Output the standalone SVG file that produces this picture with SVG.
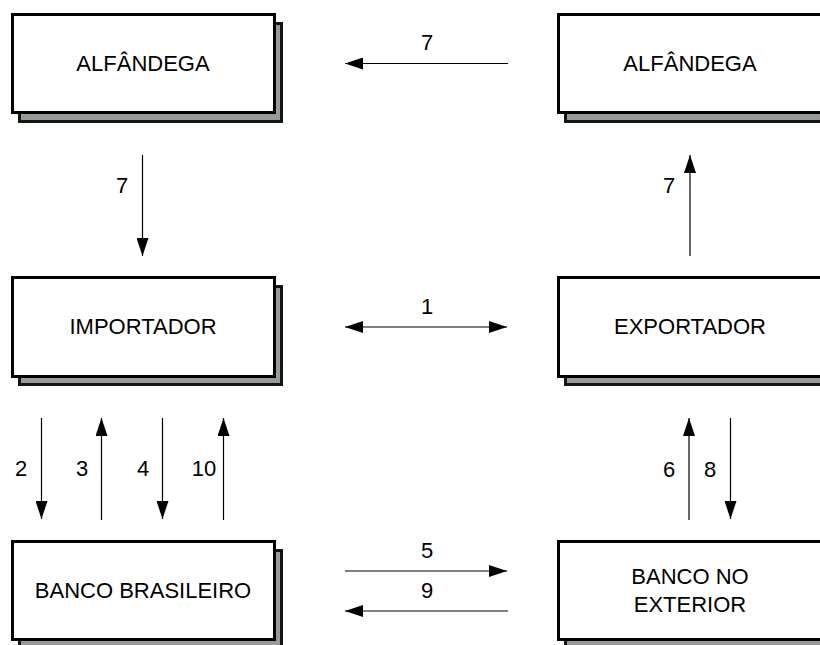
<svg xmlns="http://www.w3.org/2000/svg" width="820" height="645" viewBox="0 0 820 645">
  <defs>
    <style>
      .shadow { fill: #999999; stroke: #0d1a0d; stroke-width: 3; }
      .box { fill: #ffffff; stroke: #000000; stroke-width: 3; }
      .label { font-family: "Liberation Sans", Arial, sans-serif; font-size: 22px; fill: #000000; text-anchor: middle; }
      .num { font-family: "Liberation Sans", Arial, sans-serif; font-size: 22px; fill: #000000; text-anchor: middle; }
      .line { stroke: #000000; stroke-width: 1.2; fill: none; }
    </style>
    <marker id="arrow" viewBox="0 0 18 12" refX="18" refY="6" markerWidth="18" markerHeight="12" markerUnits="userSpaceOnUse" orient="auto-start-reverse">
      <path d="M0,0 L18,6 L0,12 Z" fill="#000000"/>
    </marker>
  </defs>
  <rect width="820" height="645" fill="#ffffff"/>

  <!-- Nodes -->
  <g id="alfandega-import">
    <rect class="shadow" x="19.5" y="23.5" width="262" height="98"/>
    <rect class="box" x="12.5" y="14.5" width="262" height="98"/>
    <text class="label" x="143" y="71">ALFÂNDEGA</text>
  </g>
  <g id="alfandega-export">
    <rect class="shadow" x="565.5" y="23.5" width="264" height="98"/>
    <rect class="box" x="558.5" y="14.5" width="264" height="98"/>
    <text class="label" x="690" y="71">ALFÂNDEGA</text>
  </g>
  <g id="importador">
    <rect class="shadow" x="19.5" y="286.5" width="262" height="98"/>
    <rect class="box" x="12.5" y="277.5" width="262" height="99"/>
    <text class="label" x="143" y="334">IMPORTADOR</text>
  </g>
  <g id="exportador">
    <rect class="shadow" x="565.5" y="286.5" width="264" height="98"/>
    <rect class="box" x="558.5" y="277.5" width="264" height="99"/>
    <text class="label" x="690" y="334">EXPORTADOR</text>
  </g>
  <g id="banco-brasileiro">
    <rect class="shadow" x="19.5" y="550.5" width="262" height="98"/>
    <rect class="box" x="12.5" y="541.5" width="262" height="98"/>
    <text class="label" x="143" y="598">BANCO BRASILEIRO</text>
  </g>
  <g id="banco-exterior">
    <rect class="shadow" x="565.5" y="550.5" width="264" height="98"/>
    <rect class="box" x="558.5" y="541.5" width="264" height="98"/>
    <text class="label" x="690" y="584">BANCO NO</text>
    <text class="label" x="690" y="612">EXTERIOR</text>
  </g>

  <!-- Connectors -->
  <g id="connectors">
    <line class="line" x1="508" y1="63.5" x2="345" y2="63.5" marker-end="url(#arrow)"/>
    <line class="line" x1="142.5" y1="155" x2="142.5" y2="256" marker-end="url(#arrow)"/>
    <line class="line" x1="690" y1="256" x2="690" y2="155" marker-end="url(#arrow)"/>
    <line class="line" x1="345" y1="327" x2="507" y2="327" marker-start="url(#arrow)" marker-end="url(#arrow)"/>
    <line class="line" x1="41.5" y1="418" x2="41.5" y2="519" marker-end="url(#arrow)"/>
    <line class="line" x1="101.5" y1="520" x2="101.5" y2="418" marker-end="url(#arrow)"/>
    <line class="line" x1="162.5" y1="418" x2="162.5" y2="519" marker-end="url(#arrow)"/>
    <line class="line" x1="223.5" y1="520" x2="223.5" y2="418" marker-end="url(#arrow)"/>
    <line class="line" x1="689" y1="520" x2="689" y2="418" marker-end="url(#arrow)"/>
    <line class="line" x1="730.5" y1="418" x2="730.5" y2="519" marker-end="url(#arrow)"/>
    <line class="line" x1="345" y1="571" x2="507" y2="571" marker-end="url(#arrow)"/>
    <line class="line" x1="508" y1="611" x2="345" y2="611" marker-end="url(#arrow)"/>

    <text class="num" x="427" y="50">7</text>
    <text class="num" x="122" y="193">7</text>
    <text class="num" x="669" y="193">7</text>
    <text class="num" x="427" y="314">1</text>
    <text class="num" x="21" y="476">2</text>
    <text class="num" x="82" y="476">3</text>
    <text class="num" x="143" y="476">4</text>
    <text class="num" x="204" y="476">10</text>
    <text class="num" x="669" y="477">6</text>
    <text class="num" x="710" y="477">8</text>
    <text class="num" x="427" y="558">5</text>
    <text class="num" x="427" y="598">9</text>
  </g>
</svg>
